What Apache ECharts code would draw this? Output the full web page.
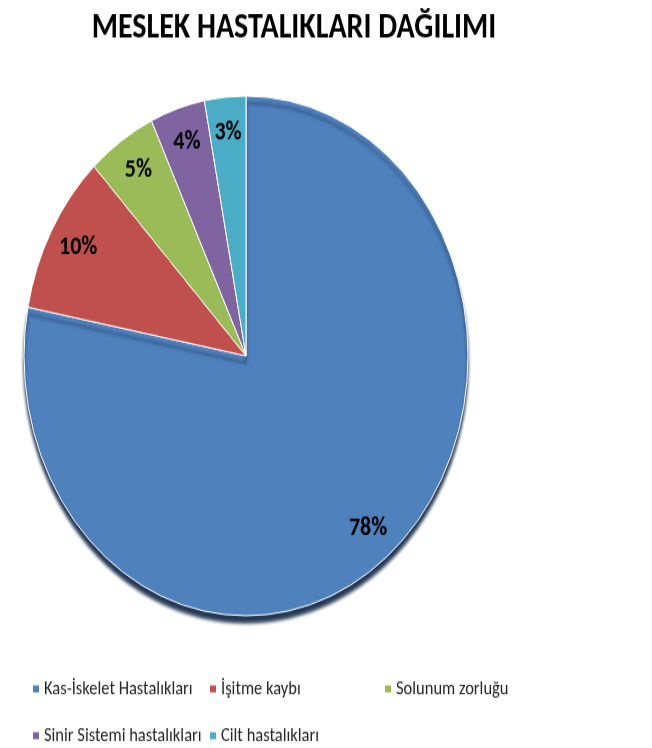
<!DOCTYPE html>
<html>
<head>
<meta charset="utf-8">
<script src="https://cdn.jsdelivr.net/npm/echarts@6/dist/echarts.min.js"></script>
<style>
html,body{margin:0;padding:0;background:#fff;overflow:hidden;width:652px;height:748px;}
#outer{position:relative;width:652px;height:748px;}
#wrap{position:absolute;left:0;top:0;width:652px;height:639px;transform:scaleY(1.1706);transform-origin:0 0;}
</style>
</head>
<body>
<div id="outer"><div id="wrap"></div></div>
<script>
const title = 'MESLEK HASTALIKLARI DAĞILIMI';
const categories = ['Kas-İskelet Hastalıkları', 'İşitme kaybı', 'Solunum zorluğu', 'Sinir Sistemi hastalıkları', 'Cilt hastalıkları'];
const values = [78, 10, 5, 4, 3];
const colors = ['#4F81BD', '#C0504D', '#9BBB59', '#8064A2', '#4BACC6'];

const chart = echarts.init(document.getElementById('wrap'), null, {renderer: 'canvas'});
const font = 'Carlito, Lato, "Open Sans", sans-serif';

const mainData = categories.map((n, i) => ({
  name: n, value: values[i],
  itemStyle: i === 0 ? {shadowColor: 'rgba(25,45,75,0.95)', shadowOffsetY: 6, shadowBlur: 3} : {}
}));
const labelData = categories.map((n, i) => ({name: n, value: values[i]}));

function legendAt(left, top, names) {
  return {
    show: true, orient: 'horizontal', left: left, top: top, padding: 0,
    icon: 'rect', itemWidth: 8, itemHeight: 8, itemGap: 13,
    textStyle: {fontFamily: font, fontSize: 16.5, color: '#262626', padding: [0, 0, 0, -1]},
    selectedMode: false,
    data: names
  };
}

chart.setOption({
  color: colors,
  animation: false,
  title: {
    text: title, left: 289, top: 4, textAlign: 'center',
    textStyle: {fontFamily: font, fontSize: 30, fontWeight: 'bold', color: '#000'}
  },
  legend: [
    legendAt(31, 580, [categories[0]]),
    legendAt(208, 580, [categories[1]]),
    legendAt(383, 580, [categories[2]]),
    legendAt(31, 620, [categories[3]]),
    legendAt(208, 620, [categories[4]])
  ],
  series: [
    {
      type: 'pie', name: 'Meslek', center: [246, 304], radius: [0, 222],
      startAngle: 90, clockwise: true,
      label: {show: false}, labelLine: {show: false},
      itemStyle: {borderColor: '#ffffff', borderWidth: 1},
      data: mainData
    },
    {
      type: 'pie', name: 'Etiket', center: [246, 304], radius: [155, 222],
      startAngle: 90, clockwise: true, silent: true,
      avoidLabelOverlap: false, legendHoverLink: false,
      itemStyle: {opacity: 0},
      label: {show: true, position: 'inside', formatter: '{c}%', opacity: 1,
        fontFamily: font, fontSize: 22, fontWeight: 'bold', color: '#000'},
      labelLine: {show: false},
      data: labelData
    }
  ]
});
</script>
</body>
</html>
